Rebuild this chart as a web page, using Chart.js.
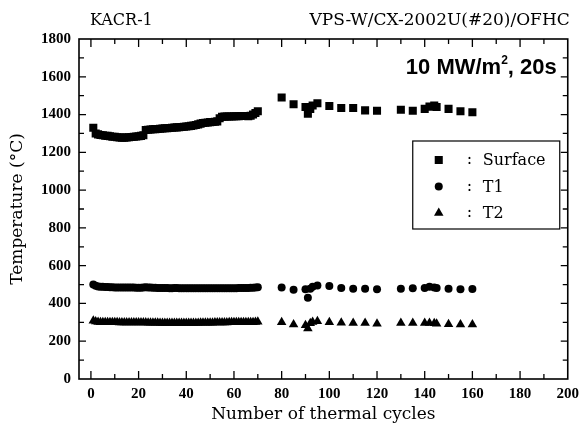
<!DOCTYPE html>
<html>
<head>
<meta charset="utf-8">
<script src="https://cdn.jsdelivr.net/npm/chart.js@4.4.1/dist/chart.umd.min.js"></script>
<style>
  html, body { margin: 0; padding: 0; background: #fff; }
  #wrap { width: 585px; height: 430px; }
</style>
</head>
<body>
<div id="wrap"><canvas id="chart"></canvas></div>
<script>
// first run of cycles (1..70)
const cyclesA = [1, 2, 3, 4, 5, 6, 7, 8, 9, 10, 11, 12, 13, 14, 15, 16, 17, 18, 19, 20,
  21, 22, 23, 24, 25, 26, 27, 28, 29, 30, 31, 32, 33, 34, 35, 36, 37, 38, 39, 40,
  41, 42, 43, 44, 45, 46, 47, 48, 49, 50, 51, 52, 53, 54, 55, 56, 57, 58, 59, 60,
  61, 62, 63, 64, 65, 66, 67, 68, 69, 70];
const surfaceA = [1330, 1300, 1295, 1292, 1290, 1288, 1287, 1285, 1283, 1282,
  1280, 1279, 1278, 1278, 1279, 1280, 1281, 1283, 1284, 1285,
  1287, 1290, 1318, 1320, 1321, 1322, 1323, 1324, 1325, 1326,
  1327, 1328, 1329, 1330, 1331, 1332, 1333, 1334, 1335, 1337,
  1338, 1340, 1342, 1345, 1348, 1352, 1355, 1357, 1358, 1360,
  1361, 1362, 1364, 1380, 1388, 1389, 1390, 1390, 1390, 1391,
  1391, 1391, 1392, 1392, 1392, 1391, 1394, 1400, 1408, 1418];
const t1A = [500, 494, 490, 489, 488, 487, 487, 486, 486, 485,
  485, 485, 484, 484, 485, 485, 484, 484, 483, 483,
  483, 484, 486, 485, 484, 483, 483, 482, 482, 482,
  482, 482, 481, 481, 482, 482, 481, 481, 481, 481,
  481, 481, 481, 480, 480, 481, 481, 480, 480, 480,
  481, 481, 481, 481, 480, 480, 481, 481, 481, 481,
  481, 482, 482, 482, 482, 482, 483, 483, 484, 486];
const t2A = [308, 304, 302, 301, 301, 300, 300, 300, 300, 300,
  300, 299, 299, 299, 299, 299, 299, 299, 299, 299,
  299, 299, 299, 298, 298, 298, 298, 298, 297, 297,
  297, 297, 297, 297, 297, 297, 297, 297, 297, 297,
  297, 297, 297, 297, 297, 298, 298, 298, 298, 298,
  298, 299, 299, 299, 299, 299, 299, 300, 300, 300,
  300, 300, 300, 300, 300, 300, 301, 301, 302, 303];

// second run of cycles (80..160)
const cyclesB = [80, 85, 90, 91, 92, 93, 95, 100, 105, 110, 115, 120, 130, 135, 140, 142, 144, 145, 150, 155, 160];
const surfaceB = [1490, 1455, 1440, 1405, 1430, 1448, 1460, 1445, 1435, 1435, 1422, 1420, 1425, 1420, 1430, 1442, 1448, 1440, 1430, 1418, 1412];
const t1B = [485, 472, 475, 430, 478, 488, 495, 492, 482, 478, 478, 475, 478, 480, 482, 488, 485, 482, 478, 475, 477];
const t2B = [300, 288, 285, 268, 295, 302, 306, 300, 298, 296, 296, 292, 296, 296, 296, 297, 295, 293, 290, 288, 288];

const xLabels = [0, 20, 40, 60, 80, 100, 120, 140, 160, 180, 200];
const seriesNames = ['Surface', 'T1', 'T2'];

const toPoints = (xs, ys) => xs.map((x, i) => ({ x, y: ys[i] }));

const serif = "'DejaVu Serif', serif";
const tickFont = { family: "'Liberation Serif', serif", size: 15, weight: 'bold' };

// frame, inward ticks, legend box and header texts
const decorations = {
    id: 'decorations',
    afterDraw(chart) {
        const { ctx, chartArea: a, scales: { x, y } } = chart;
        ctx.save();
        ctx.strokeStyle = '#000';
        ctx.lineWidth = 1.6;
        ctx.strokeRect(a.left, a.top, a.right - a.left, a.bottom - a.top);

        ctx.lineWidth = 1.3;
        ctx.beginPath();
        for (let v = 0; v < 200; v += 10) {
            const px = x.getPixelForValue(v);
            const len = v % 20 === 0 ? 8 : 5;
            ctx.moveTo(px, a.bottom); ctx.lineTo(px, a.bottom - len);
            ctx.moveTo(px, a.top); ctx.lineTo(px, a.top + len);
        }
        for (let v = 100; v < 1800; v += 100) {
            const py = y.getPixelForValue(v);
            const len = v % 200 === 0 ? 7 : 5;
            ctx.moveTo(a.left, py); ctx.lineTo(a.left + len, py);
            ctx.moveTo(a.right, py); ctx.lineTo(a.right - len, py);
        }
        ctx.stroke();

        // legend
        const lx = a.right - 155, ly = a.top + 102, lw = 147, lh = 88;
        ctx.fillStyle = '#fff';
        ctx.fillRect(lx, ly, lw, lh);
        ctx.lineWidth = 1.2;
        ctx.strokeRect(lx, ly, lw, lh);
        ctx.fillStyle = '#000';
        ctx.font = '16px ' + serif;
        ctx.textBaseline = 'middle';
        ctx.textAlign = 'left';
        chart.data.datasets.forEach((ds, i) => {
            const ry = ly + 19 + i * 26.5;
            Chart.helpers.drawPoint(ctx, { pointStyle: ds.pointStyle, radius: ds.pointRadius, rotation: 0, borderWidth: 0 }, lx + 26, ry);
            ctx.fillText(':', lx + 54, ry);
            ctx.fillText(seriesNames[i], lx + 70, ry + 1);
        });

        // header texts
        ctx.textBaseline = 'alphabetic';
        ctx.font = '16px ' + serif;
        ctx.textAlign = 'left';
        ctx.fillText('KACR-1', 90, 25);
        ctx.font = '17px ' + serif;
        ctx.textAlign = 'right';
        ctx.fillText('VPS-W/CX-2002U(#20)/OFHC', a.right + 2, 25);

        // condition label with superscript
        const bx = a.right - 11, by = 74;
        ctx.font = "bold 22px 'Liberation Sans', sans-serif";
        ctx.textAlign = 'right';
        ctx.fillText(', 20s', bx, by);
        const w1 = ctx.measureText(', 20s').width;
        ctx.font = "bold 12px 'Liberation Sans', sans-serif";
        ctx.fillText('2', bx - w1, by - 10);
        const w2 = ctx.measureText('2').width;
        ctx.font = "bold 22px 'Liberation Sans', sans-serif";
        ctx.fillText('10 MW/m', bx - w1 - w2, by);
        ctx.restore();
    }
};

new Chart(document.getElementById('chart'), {
    type: 'scatter',
    data: {
        datasets: [
            {
                label: seriesNames[0],
                data: toPoints(cyclesA, surfaceA).concat(toPoints(cyclesB, surfaceB)),
                pointStyle: 'rect',
                pointRadius: 5.7,
                backgroundColor: '#000',
                borderWidth: 0
            },
            {
                label: seriesNames[1],
                data: toPoints(cyclesA, t1A).concat(toPoints(cyclesB, t1B)),
                pointStyle: 'circle',
                pointRadius: 4,
                backgroundColor: '#000',
                borderWidth: 0
            },
            {
                label: seriesNames[2],
                data: toPoints(cyclesA, t2A).concat(toPoints(cyclesB, t2B)),
                pointStyle: 'triangle',
                pointRadius: 5.5,
                backgroundColor: '#000',
                borderWidth: 0
            }
        ]
    },
    options: {
        responsive: true,
        maintainAspectRatio: false,
        animation: false,
        layout: { padding: { top: 39, right: 13, left: 0, bottom: 0 } },
        plugins: {
            legend: { display: false },
            tooltip: { enabled: false }
        },
        scales: {
            x: {
                type: 'linear',
                min: -5,
                max: 200,
                grid: { display: false, drawTicks: false },
                border: { display: false },
                afterBuildTicks: (scale) => {
                    scale.ticks = xLabels.map((v) => ({ value: v }));
                },
                afterFit: (scale) => { scale.height = 51; },
                ticks: { color: '#000', font: tickFont, padding: 6, maxRotation: 0, autoSkip: false, callback: (v) => String(v) },
                title: {
                    display: true,
                    text: 'Number of thermal cycles',
                    color: '#000',
                    font: { family: serif, size: 17 },
                    padding: { top: 0, bottom: 5 }
                }
            },
            y: {
                min: 0,
                max: 1800,
                grid: { display: false, drawTicks: false },
                border: { display: false },
                afterFit: (scale) => { scale.width = 79; },
                ticks: { stepSize: 200, color: '#000', font: tickFont, padding: 8, callback: (v) => String(v) },
                title: {
                    display: true,
                    text: 'Temperature (°C)',
                    color: '#000',
                    font: { family: serif, size: 17 },
                    padding: { top: 7, bottom: 0 }
                }
            }
        }
    },
    plugins: [decorations]
});
</script>
</body>
</html>
